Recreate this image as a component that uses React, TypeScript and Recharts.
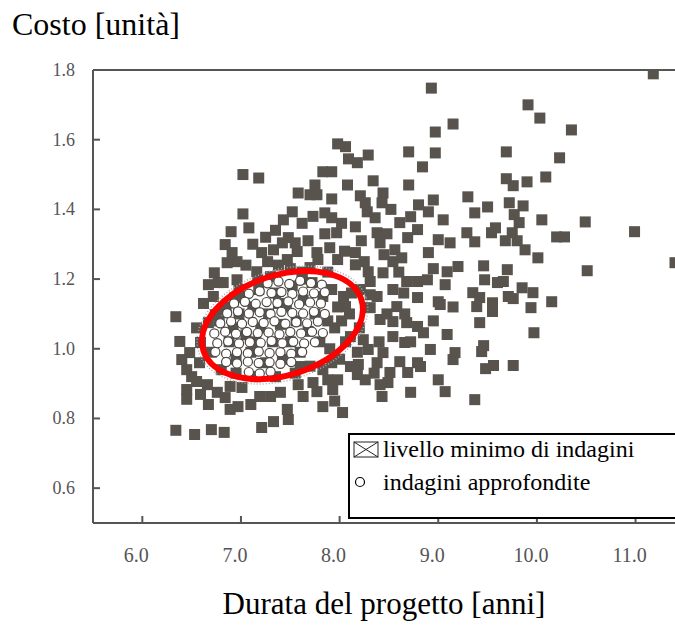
import React from "react";
import { ScatterChart, Scatter, XAxis, YAxis, ReferenceLine, Legend } from "recharts";

// tick marks of the two axes
const xTicks = [6.0, 7.0, 8.0, 9.0, 10.0, 11.0];
const yTicks = [0.6, 0.8, 1.0, 1.2, 1.4, 1.6, 1.8];

// "livello minimo di indagini" — [durata, costo]
const minimoAlto: [number, number][] = [
  [7.02, 1.5], [7.18, 1.49], [7.02, 1.387],
  [8.93, 1.748], [9.15, 1.645], [8.97, 1.622], [7.98, 1.588], [8.06, 1.58], [8.7, 1.565], [8.97, 1.562],
  [8.29, 1.556], [8.09, 1.545], [8.18, 1.534], [8.84, 1.522], [7.83, 1.508], [7.92, 1.508], [8.34, 1.482],
  [7.75, 1.47], [8.7, 1.47], [7.58, 1.447], [7.7, 1.442], [7.77, 1.442], [8.21, 1.439], [8.44, 1.447],
  [7.92, 1.43], [8.43, 1.419], [9.3, 1.436], [8.26, 1.419], [8.8, 1.413], [8.95, 1.427], [7.52, 1.393],
  [8.28, 1.393], [8.9, 1.393], [9.37, 1.39],
  [11.18, 1.789], [9.91, 1.7], [10.03, 1.662], [10.35, 1.628], [9.69, 1.565], [10.23, 1.548], [9.69, 1.488],
  [9.76, 1.468], [9.9, 1.479], [10.09, 1.493], [9.5, 1.407], [9.72, 1.419], [9.86, 1.41], [9.77, 1.385],
  [10.05, 1.37], [10.49, 1.364],
  [9.82, 1.362], [10.99, 1.336], [9.54, 1.333], [9.58, 1.347], [9.75, 1.333], [10.2, 1.321], [10.28, 1.321],
  [9.68, 1.31], [9.8, 1.31], [9.37, 1.307],
  [7.85, 1.39], [7.92, 1.376], [8.36, 1.376], [8.72, 1.379], [8.61, 1.362], [8.16, 1.35], [7.97, 1.333],
  [8.38, 1.333], [8.79, 1.342], [9.0, 1.313], [9.12, 1.304], [9.29, 1.333], [7.48, 1.319], [7.55, 1.304],
  [8.41, 1.304], [8.69, 1.319],
  [7.08, 1.347], [6.9, 1.336], [7.43, 1.37], [7.42, 1.304],
  [7.62, 1.36], [7.68, 1.31], [7.85, 1.33], [7.73, 1.38], [8.02, 1.36], [8.22, 1.31], [8.48, 1.33],
  [7.25, 1.32], [7.12, 1.3], [7.35, 1.34], [8.08, 1.47], [8.52, 1.4], [9.05, 1.37],
];

const minimoMedio: [number, number][] = [
  [9.88, 1.284], [10.01, 1.261], [9.46, 1.238], [9.7, 1.227], [10.51, 1.224], [11.4, 1.247], [9.47, 1.198],
  [9.6, 1.19], [9.66, 1.193], [9.85, 1.175], [9.96, 1.161], [9.35, 1.161], [9.42, 1.147], [9.71, 1.15],
  [9.76, 1.144], [10.15, 1.135], [9.55, 1.132], [9.55, 1.107], [9.94, 1.118],
  [8.56, 1.284], [8.9, 1.276], [9.2, 1.236], [7.57, 1.279], [7.77, 1.276], [7.98, 1.256], [8.16, 1.276],
  [8.16, 1.241], [7.47, 1.256], [7.7, 1.233], [7.78, 1.256], [8.29, 1.221], [8.44, 1.218], [8.54, 1.25],
  [8.63, 1.261], [8.68, 1.193], [8.79, 1.193], [8.89, 1.198], [9.09, 1.221], [9.07, 1.184], [8.54, 1.17],
  [8.79, 1.147], [9.0, 1.135], [9.02, 1.127], [8.31, 1.193], [8.31, 1.155], [8.31, 1.118], [8.58, 1.121],
  [9.39, 1.121], [8.06, 1.121], [8.21, 1.17],
  [6.84, 1.299], [6.91, 1.276], [6.96, 1.25], [6.86, 1.247], [6.73, 1.218], [6.67, 1.184], [6.77, 1.19],
  [6.82, 1.19], [6.96, 1.198], [6.98, 1.17], [6.94, 1.147], [7.16, 1.221], [7.21, 1.276], [7.33, 1.284],
  [7.27, 1.25], [7.17, 1.198], [7.3, 1.207], [6.81, 1.112], [6.62, 1.13],
  [7.92, 1.17], [7.98, 1.12], [8.04, 1.15], [8.1, 1.1], [8.12, 1.16], [7.5, 1.23], [7.62, 1.22],
  [7.38, 1.24], [7.88, 1.22],
  [7.9, 1.29], [8.05, 1.28], [8.25, 1.25], [8.45, 1.27], [8.6, 1.22], [8.38, 1.15], [8.48, 1.1],
  [8.65, 1.16], [8.95, 1.23], [9.15, 1.12], [7.05, 1.24], [6.72, 1.15],
];

const minimoBasso: [number, number][] = [
  [9.97, 1.046], [9.46, 1.009], [9.44, 0.992], [9.56, 0.952], [9.76, 0.952], [9.48, 0.943],
  [8.41, 1.084], [8.54, 1.078], [8.68, 1.075], [8.79, 1.064], [8.85, 1.046], [9.09, 1.041], [8.92, 0.998],
  [9.17, 0.989], [8.66, 1.018], [8.54, 1.035], [8.24, 1.026], [8.29, 0.998], [8.44, 0.989], [8.61, 0.963],
  [8.79, 0.96], [8.19, 0.955], [8.38, 0.96], [9.42, 1.075], [8.11, 1.035],
  [6.34, 1.092], [6.74, 1.098], [6.67, 1.075], [6.38, 1.021], [6.48, 0.989], [6.4, 0.969], [6.59, 1.018],
  [6.45, 0.94], [6.55, 0.906], [6.45, 0.883], [6.45, 0.855], [6.66, 0.897], [6.59, 0.869], [6.67, 0.84],
  [6.76, 0.875], [6.84, 0.86], [6.89, 0.826], [6.97, 0.834], [6.89, 0.892], [7.01, 0.889], [7.19, 0.863],
  [7.3, 0.863], [7.4, 0.875], [7.47, 0.826], [7.33, 0.791], [7.21, 0.774], [6.34, 0.766], [6.53, 0.754],
  [6.7, 0.768], [6.83, 0.76],
  [7.48, 0.797], [7.83, 0.834], [8.03, 0.817], [7.63, 0.863], [7.77, 0.877], [7.93, 0.883], [7.98, 0.911],
  [7.88, 0.911], [7.73, 0.903], [7.58, 0.897], [7.83, 0.94], [8.18, 0.926], [8.26, 0.911], [8.41, 0.897],
  [8.43, 0.863], [8.49, 0.903], [8.51, 0.932], [8.72, 0.875], [8.69, 0.932], [8.82, 0.949], [9.0, 0.911],
  [9.07, 0.877], [9.37, 0.854], [9.15, 0.969], [8.11, 0.949], [7.6, 0.949],
  [7.95, 1.06], [8.02, 1.08], [7.9, 1.0], [8.06, 1.02], [8.0, 0.97], [7.55, 0.93], [7.7, 0.95], [7.35, 0.92],
  [7.15, 0.92], [6.95, 0.93], [6.8, 0.94], [7.92, 0.96], [6.58, 0.96], [6.7, 0.99],
  [8.66, 1.1], [8.72, 1.02], [8.95, 1.08], [8.4, 1.02], [8.2, 1.06], [8.18, 0.99], [8.35, 0.93],
  [6.55, 1.06], [6.5, 0.92], [7.1, 0.84], [7.95, 0.85],
];

// squares hidden under the circles
const minimoNucleo: [number, number][] = [
  [6.78, 1.08], [6.85, 1.12], [6.88, 1.02], [6.95, 0.97], [6.98, 1.1], [7.02, 1.15], [7.05, 1.04],
  [7.1, 0.99], [7.12, 1.12], [7.18, 1.17], [7.2, 1.06], [7.25, 0.96], [7.28, 1.1], [7.32, 1.02],
  [7.35, 1.16], [7.4, 1.07], [7.42, 0.97], [7.46, 1.12], [7.5, 1.02], [7.52, 1.18], [7.56, 1.08],
  [7.6, 0.99], [7.63, 1.14], [7.68, 1.05], [7.72, 1.19], [7.75, 1.1], [7.8, 1.02], [7.83, 1.15],
  [7.88, 1.08], [6.92, 1.06], [7.15, 1.02], [7.38, 1.13], [7.62, 1.2],
];

// "indagini approfondite"
const approfondite: [number, number][] = [
  [7.27, 1.188], [7.38, 1.193], [7.49, 1.186], [7.6, 1.195], [7.71, 1.189], [7.82, 1.184],
  [7.08, 1.158], [7.19, 1.165], [7.31, 1.16], [7.41, 1.163], [7.52, 1.157], [7.63, 1.164], [7.74, 1.159], [7.85, 1.162],
  [6.93, 1.13], [7.04, 1.135], [7.15, 1.129], [7.26, 1.134], [7.37, 1.131], [7.48, 1.136], [7.59, 1.128], [7.7, 1.133], [7.81, 1.13],
  [6.86, 1.102], [6.97, 1.107], [7.08, 1.101], [7.19, 1.105], [7.3, 1.1], [7.41, 1.106], [7.52, 1.103], [7.63, 1.101], [7.74, 1.106], [7.85, 1.1],
  [6.79, 1.073], [6.9, 1.078], [7.01, 1.072], [7.12, 1.077], [7.23, 1.074], [7.34, 1.079], [7.45, 1.072], [7.56, 1.076], [7.67, 1.073], [7.78, 1.078],
  [6.73, 1.044], [6.84, 1.049], [6.95, 1.043], [7.06, 1.048], [7.17, 1.045], [7.28, 1.047], [7.39, 1.042], [7.5, 1.048], [7.61, 1.044], [7.72, 1.049], [7.83, 1.045],
  [6.76, 1.016], [6.87, 1.021], [6.98, 1.015], [7.09, 1.019], [7.2, 1.017], [7.31, 1.022], [7.42, 1.016], [7.53, 1.02], [7.64, 1.015], [7.75, 1.019],
  [6.74, 0.991], [6.85, 0.986], [6.96, 0.99], [7.07, 0.987], [7.18, 0.992], [7.29, 0.988], [7.4, 0.99], [7.51, 0.986], [7.62, 0.991],
  [6.85, 0.962], [6.96, 0.958], [7.07, 0.963], [7.18, 0.959], [7.29, 0.961], [7.4, 0.957], [7.51, 0.962],
  [7.08, 0.933], [7.19, 0.929], [7.3, 0.934],
];

// centre of the red ellipse around the detailed-survey group
const ellisseCentro: [number, number][] = [[7.42, 1.068]];

const toPoints = (arr: [number, number][]) => arr.map(([x, y]) => ({ x, y }));

const squares = toPoints([...minimoNucleo, ...minimoAlto, ...minimoMedio, ...minimoBasso]);
const circles = toPoints(approfondite);
const ellipse = toPoints(ellisseCentro);

const GREY = "#58534d";
const AXIS = "#555";
const SERIF = "'Liberation Serif', 'Times New Roman', serif";
const serif = { fontFamily: SERIF };

const SquareShape = (p: any) => (
  <rect x={p.cx - 5.5} y={p.cy - 5.5} width={11} height={11} fill={GREY} />
);

const CircleShape = (p: any) => (
  <circle cx={p.cx} cy={p.cy} r={4.6} fill="#fff" stroke="#4a4641" strokeWidth={1.2} />
);

const EllipseShape = (p: any) => (
  <g transform={`rotate(-18 ${p.cx} ${p.cy})`}>
    <ellipse cx={p.cx} cy={p.cy} rx={88} ry={55} fill="none" stroke="#aaa" strokeWidth={1.5} strokeDasharray="1 2" />
    <ellipse cx={p.cx} cy={p.cy} rx={83} ry={50} fill="none" stroke="#ff0000" strokeWidth={6} />
  </g>
);

const YTick = ({ x, y, payload }: any) => (
  <g>
    <line x1={x} x2={x + 7} y1={y} y2={y} stroke={AXIS} strokeWidth={2} />
    <text x={x - 18} y={y + 6} textAnchor="end" fill={AXIS} fontSize={18} style={serif}>
      {Number(payload.value).toFixed(1)}
    </text>
  </g>
);

const XTick = ({ x, y, payload }: any) => (
  <g>
    <line x1={x} x2={x} y1={y} y2={y - 7} stroke={AXIS} strokeWidth={2} />
    <text x={x - 6} y={y + 39} textAnchor="middle" fill={AXIS} fontSize={20} style={serif}>
      {Number(payload.value).toFixed(1)}
    </text>
  </g>
);

const LegendBox = () => (
  <svg width={340} height={86} style={{ display: "block" }}>
    <rect x={1} y={1} width={336} height={84} fill="#fff" stroke="#000" strokeWidth={2} />
    <rect x={6} y={9} width={24} height={15} fill="none" stroke="#222" strokeWidth={1} />
    <line x1={6} y1={9} x2={30} y2={24} stroke="#222" strokeWidth={1} />
    <line x1={30} y1={9} x2={6} y2={24} stroke="#222" strokeWidth={1} />
    <text x={35} y={24} fontSize={24} style={serif} fill="#000">livello minimo di indagini</text>
    <circle cx={12} cy={49} r={4.5} fill="#fff" stroke="#000" strokeWidth={1.2} />
    <text x={35} y={57} fontSize={24} style={serif} fill="#000">indagini approfondite</text>
  </svg>
);

export default function App() {
  return (
    <div style={{ position: "absolute", left: 0, top: 0, width: 675, height: 628, overflow: "hidden", background: "#fff", fontFamily: SERIF }}>
      <svg width={260} height={50} style={{ position: "absolute", left: 0, top: 0 }}>
        <text x={12} y={35} fontSize={32} style={serif} fill="#000">Costo [unità]</text>
      </svg>
      <ScatterChart width={675} height={628} margin={{ top: 70, right: 0, bottom: 0, left: 43 }} style={serif}>
        <XAxis
          type="number"
          dataKey="x"
          domain={[5.5, 11.4]}
          ticks={xTicks}
          allowDataOverflow
          height={105}
          tickSize={0}
          tickMargin={0}
          tickLine={false}
          axisLine={{ stroke: AXIS, strokeWidth: 2 }}
          tick={<XTick />}
          label={{ value: "Durata del progetto [anni]", position: "insideBottom", offset: 14, fontSize: 31, fill: "#000", style: serif }}
        />
        <YAxis
          type="number"
          dataKey="y"
          domain={[0.5, 1.8]}
          ticks={yTicks}
          allowDataOverflow
          width={50}
          tickSize={0}
          tickMargin={0}
          tickLine={false}
          axisLine={{ stroke: AXIS, strokeWidth: 2 }}
          tick={<YTick />}
        />
        <ReferenceLine y={1.8} stroke={AXIS} strokeWidth={2} />
        <Scatter data={squares} shape={SquareShape} isAnimationActive={false} />
        <Scatter data={circles} shape={CircleShape} isAnimationActive={false} />
        <Scatter data={ellipse} shape={EllipseShape} isAnimationActive={false} />
        <Legend
          layout="horizontal"
          verticalAlign="middle"
          align="center"
          content={<LegendBox />}
          wrapperStyle={{ position: "absolute", left: 348, top: 433, width: 340, height: 86 }}
        />
      </ScatterChart>
    </div>
  );
}
